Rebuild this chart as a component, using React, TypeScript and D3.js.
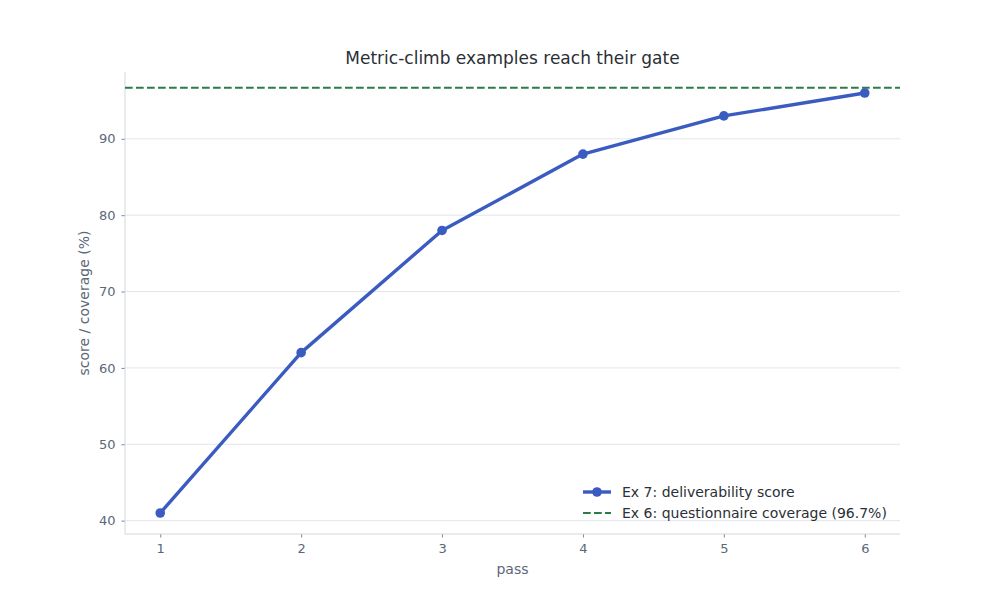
import React, { useEffect, useRef } from "react";
import * as d3 from "d3";

// data
const passes = [1, 2, 3, 4, 5, 6];
const deliverability = [41, 62, 78, 88, 93, 96];
const coverageGate = 96.7;
const yTicks = [40, 50, 60, 70, 80, 90];

const W = 1000;
const H = 600;
const margin = { top: 72, right: 100, bottom: 66, left: 125 };

const TEXT = "#5b6779";
const GRID = "#dadee5";
const BLUE = "#3a5bc0";
const GREEN = "#2b7c45";
const DASH = "7.7,3.3";
const FONT = "DejaVu Sans, sans-serif";

function App() {
  const ref = useRef<SVGSVGElement>(null);

  useEffect(() => {
    document.body.style.margin = "0";
    const svg = d3.select(ref.current);
    svg.selectAll("*").remove();

    const w = W - margin.left - margin.right;
    const h = H - margin.top - margin.bottom;

    const x = d3.scaleLinear().domain([0.75, 6.25]).range([0, w]);
    const y = d3.scaleLinear().domain([38.25, 98.75]).range([h, 0]);

    const g = svg.append("g")
      .attr("transform", `translate(${margin.left},${margin.top})`);

    // horizontal grid
    g.selectAll(".grid")
      .data(yTicks)
      .join("line")
      .attr("class", "grid")
      .attr("x1", 0)
      .attr("x2", w)
      .attr("y1", d => y(d))
      .attr("y2", d => y(d))
      .attr("stroke", GRID)
      .attr("stroke-width", 0.8);

    // axes
    const xAxis = g.append("g")
      .attr("transform", `translate(0,${h})`)
      .call(d3.axisBottom(x).tickValues(passes).tickFormat(d3.format("d")).tickSize(3.5).tickPadding(6));
    const yAxis = g.append("g")
      .call(d3.axisLeft(y).tickValues(yTicks).tickSize(3.5).tickPadding(6));

    [xAxis, yAxis].forEach(a => {
      a.select(".domain").remove();
      a.selectAll("line").attr("stroke", TEXT).attr("stroke-width", 0.8);
      a.selectAll("text")
        .attr("fill", TEXT)
        .style("font-family", FONT)
        .style("font-size", "13px");
    });

    // left + bottom spines
    g.append("line").attr("x1", 0).attr("x2", 0).attr("y1", 0).attr("y2", h)
      .attr("stroke", "#d3d8df").attr("stroke-width", 1);
    g.append("line").attr("x1", 0).attr("x2", w).attr("y1", h).attr("y2", h)
      .attr("stroke", "#d3d8df").attr("stroke-width", 1);

    // gate line
    g.append("line")
      .attr("x1", 0).attr("x2", w)
      .attr("y1", y(coverageGate)).attr("y2", y(coverageGate))
      .attr("stroke", GREEN)
      .attr("stroke-width", 2)
      .attr("stroke-dasharray", DASH);

    // score line
    const line = d3.line<number>()
      .x((d, i) => x(passes[i]))
      .y(d => y(d));

    g.append("path")
      .datum(deliverability)
      .attr("d", line)
      .attr("fill", "none")
      .attr("stroke", BLUE)
      .attr("stroke-width", 3.4)
      .attr("stroke-linejoin", "round");

    g.selectAll(".dot")
      .data(deliverability)
      .join("circle")
      .attr("class", "dot")
      .attr("cx", (d, i) => x(passes[i]))
      .attr("cy", d => y(d))
      .attr("r", 4.8)
      .attr("fill", BLUE);

    // title + labels
    svg.append("text")
      .attr("x", margin.left + w / 2)
      .attr("y", 64)
      .attr("text-anchor", "middle")
      .attr("fill", "#2b2f36")
      .style("font-family", FONT)
      .style("font-size", "17px")
      .text("Metric-climb examples reach their gate");

    svg.append("text")
      .attr("x", margin.left + w / 2)
      .attr("y", 574)
      .attr("text-anchor", "middle")
      .attr("fill", TEXT)
      .style("font-family", FONT)
      .style("font-size", "14px")
      .text("pass");

    svg.append("text")
      .attr("transform", `translate(89,${margin.top + h / 2}) rotate(-90)`)
      .attr("text-anchor", "middle")
      .attr("fill", TEXT)
      .style("font-family", FONT)
      .style("font-size", "14px")
      .text("score / coverage (%)");

    // legend
    const leg = svg.append("g").attr("transform", "translate(583,492)");
    leg.append("line").attr("x1", 0).attr("x2", 28).attr("y1", 0).attr("y2", 0)
      .attr("stroke", BLUE).attr("stroke-width", 3.4);
    leg.append("circle").attr("cx", 14).attr("cy", 0).attr("r", 4.8).attr("fill", BLUE);
    leg.append("text").attr("x", 39).attr("y", 5)
      .attr("fill", "#2b2f36")
      .style("font-family", FONT).style("font-size", "14px")
      .text("Ex 7: deliverability score");

    leg.append("line").attr("x1", 0).attr("x2", 28).attr("y1", 21).attr("y2", 21)
      .attr("stroke", GREEN).attr("stroke-width", 2).attr("stroke-dasharray", DASH);
    leg.append("text").attr("x", 39).attr("y", 26)
      .attr("fill", "#2b2f36")
      .style("font-family", FONT).style("font-size", "14px")
      .text("Ex 6: questionnaire coverage (96.7%)");
  }, []);

  return <svg ref={ref} width={W} height={H} style={{ display: "block", background: "#fff" }}></svg>;
}

export default App;
